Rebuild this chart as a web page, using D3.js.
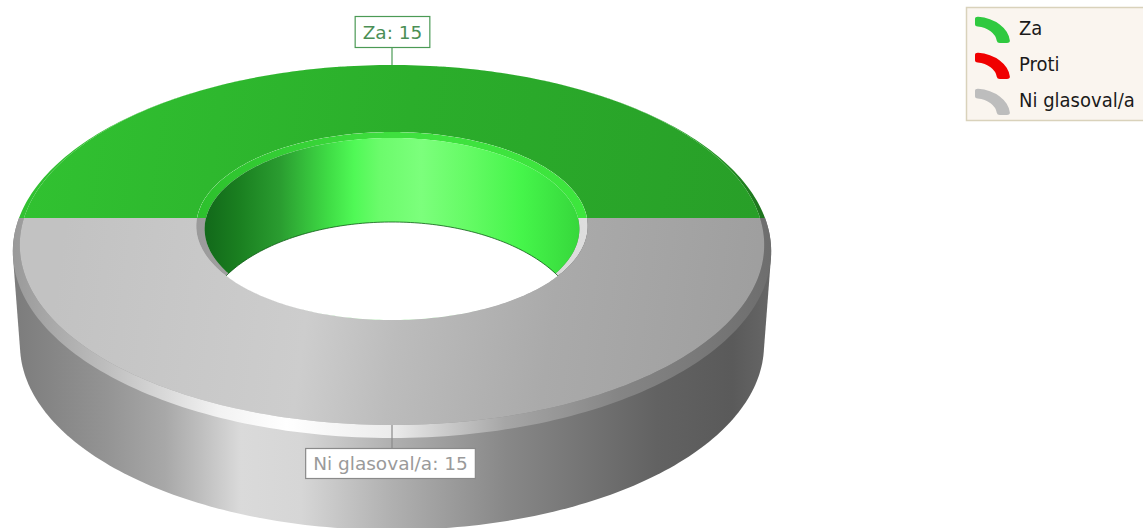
<!DOCTYPE html>
<html>
<head>
<meta charset="utf-8">
<script src="https://cdn.jsdelivr.net/npm/d3@7"></script>
<style>
	html, body { margin: 0; padding: 0; background: #fff; overflow: hidden; }
	svg { display: block; }
	text { font-family: "DejaVu Sans", sans-serif; }
	.legend-label { font-family: "DejaVu Sans Condensed", "DejaVu Sans", sans-serif; font-stretch: condensed; font-size: 20px; fill: #1a1a1a; }
</style>
</head>
<body>
<div id="chart"></div>
<script>
var categories = ['Za', 'Proti', 'Ni glasoval/a'];
var votes = [15, 0, 15];

(function() {
	var width = 1143,
		height = 528,
		cx = 392,
		lineY = 218,
		steps = 160;

	// each ring is a circle seen in perspective: far/near are the distances from the split line
	var rimRing = makeRing(373, 153, 220),
		faceRing = makeRing(368, 153, 207),
		holeRing = makeRing(195, 86, 102),
		wallRing = makeRing(186, 80, 102);

	var baseEllipse = { rx: 372, ry: 185, cy: 345 },
		holeFloor = { rx: 190, ry: 105, cy: 327 };

	// one look per category, same order as categories
	var looks = [
		{
			face: [[0, '#31c231'], [.5, '#2bae2b'], [1, '#289e28']],
			bevel: [[0, '#31c231'], [.5, '#2bae2b'], [.9, '#289e28'], [1, '#1c701c']],
			holeBevel: [[0, '#2cc02c'], [.5, '#3fe03f'], [1, '#3de63d']],
			side: [[0, '#1f8f1f'], [1, '#1f8f1f']],
			stroke: '#4b9a55',
			text: '#4b8f55',
			swatch: '#2fc93f'
		},
		{
			face: [[0, '#f00'], [1, '#c00']],
			bevel: [[0, '#f00'], [1, '#900']],
			holeBevel: [[0, '#f00'], [1, '#f44']],
			side: [[0, '#c00'], [1, '#c00']],
			stroke: '#c00',
			text: '#c00',
			swatch: '#f00000'
		},
		{
			face: [[.07, '#c2c2c2'], [.4, '#cdcdcd'], [.52, '#bcbcbc'], [.72, '#aaaaaa'], [1, '#9e9e9e']],
			bevel: [[0, '#9a9a9a'], [.12, '#bdbdbd'], [.27, '#f2f2f2'], [.36, '#ffffff'], [.5, '#ececec'], [.65, '#a6a6a6'], [.8, '#858585'], [1, '#6e6e6e']],
			holeBevel: [[0, '#9a9a9a'], [.5, '#c0c0c0'], [1, '#dedede']],
			side: [[0, '#7c7c7c'], [.12, '#939393'], [.2, '#a8a8a8'], [.25, '#c0c0c0'], [.3, '#dadada'], [.38, '#d6d6d6'], [.5, '#b0b0b0'], [.65, '#888888'], [.85, '#626262'], [.95, '#5a5a5a'], [1, '#666666']],
			stroke: '#8a8a8a',
			text: '#9a9a9a',
			swatch: '#bdbdbd'
		}
	];

	var pie = d3.pie()
		.sort(null)
		.startAngle(-Math.PI / 2)
		.endAngle(Math.PI * 3 / 2);

	var slices = pie(votes).map(function(d, i) {
		d.index = i;
		return d;
	});

	var svg = d3.select('#chart')
		.append('svg')
		.attr('width', width)
		.attr('height', height)
		.attr('viewBox', '0 0 ' + width + ' ' + height);

	var defs = svg.append('defs');

	looks.forEach(function(look, i) {
		addGradient('face-' + i, look.face, 14, 770, 200, 300);
		addGradient('bevel-' + i, look.bevel, 14, 770);
		addGradient('hole-bevel-' + i, look.holeBevel, 195, 587);
		addGradient('side-' + i, look.side, 14, 770);
	});

	addGradient('wall', [[0, '#12691a'], [.09, '#1a7f20'], [.2, '#2a9c30'], [.33, '#3fdc45'], [.4, '#50f956'], [.47, '#6cfb6c'], [.58, '#7cff7c'], [.7, '#66fb66'], [.85, '#45f54a'], [1, '#37d83c']], 205, 578);

	defs.append('clipPath')
		.attr('id', 'hole-clip')
		.append('path')
		.attr('d', ringPath(holeRing, 0, Math.PI * 2));

	var drawn = slices.filter(function(d) { return d.value > 0; });

	// outer wall, only the slice at the front shows
	svg.append('g')
		.selectAll('path')
		.data(drawn.filter(function(d) { return d.startAngle < Math.PI && d.endAngle > Math.PI; }))
		.enter()
		.append('path')
		.attr('d', sidePath)
		.attr('fill', function(d) { return 'url(#side-' + d.index + ')'; });

	// top of the ring
	svg.append('g')
		.selectAll('path')
		.data(drawn)
		.enter()
		.append('path')
		.attr('d', function(d) { return bandPath(rimRing, faceRing, d.startAngle, d.endAngle); })
		.attr('fill', function(d) { return 'url(#bevel-' + d.index + ')'; });

	svg.append('g')
		.selectAll('path')
		.data(drawn)
		.enter()
		.append('path')
		.attr('d', function(d) { return bandPath(faceRing, holeRing, d.startAngle, d.endAngle); })
		.attr('fill', function(d) { return 'url(#face-' + d.index + ')'; });

	// the hole
	var hole = svg.append('g')
		.attr('clip-path', 'url(#hole-clip)');

	hole.selectAll('.hole-bevel')
		.data(drawn)
		.enter()
		.append('path')
		.attr('class', 'hole-bevel')
		.attr('d', function(d) { return bandPath(holeRing, wallRing, d.startAngle, d.endAngle); })
		.attr('fill', function(d) { return 'url(#hole-bevel-' + d.index + ')'; });

	hole.append('path')
		.attr('d', ringPath(wallRing, 0, Math.PI * 2))
		.attr('fill', 'url(#wall)');

	hole.append('path')
		.attr('d', d3.line()(ellipsePoints(holeFloor, 0, Math.PI * 2)) + 'Z')
		.attr('fill', '#fff')
		.attr('stroke', '#0c5c14')
		.attr('stroke-width', .8);

	drawLabels();
	drawLegend();

	function makeRing(halfWidth, far, near)
	{
		var p = (near - far) / (near + far);
		return { a: halfWidth, b: far * (1 + p), p: p };
	}

	function ringPoint(ring, angle)
	{
		var w = 1 + ring.p * Math.cos(angle);
		return [
			cx + ring.a * Math.sin(angle) / w,
			lineY - ring.b * Math.cos(angle) / w
		];
	}

	function angles(a0, a1)
	{
		var n = Math.max(2, Math.ceil(steps * Math.abs(a1 - a0) / Math.PI));
		return d3.range(n + 1).map(function(i) {
			return a0 + (a1 - a0) * i / n;
		});
	}

	function ringPoints(ring, a0, a1)
	{
		return angles(a0, a1).map(function(a) { return ringPoint(ring, a); });
	}

	function ringPath(ring, a0, a1)
	{
		return d3.line()(ringPoints(ring, a0, a1)) + 'Z';
	}

	function bandPath(outer, inner, a0, a1)
	{
		return d3.line()(ringPoints(outer, a0, a1).concat(ringPoints(inner, a1, a0))) + 'Z';
	}

	function ellipsePoints(e, a0, a1)
	{
		return angles(a0, a1).map(function(a) {
			return [cx + e.rx * Math.sin(a), e.cy - e.ry * Math.cos(a)];
		});
	}

	function sidePath(d)
	{
		var pts = ringPoints(rimRing, d.startAngle, d.endAngle)
			.concat(ellipsePoints(baseEllipse, d.startAngle, d.endAngle));
		return d3.line()(d3.polygonHull(pts)) + 'Z';
	}

	function addGradient(id, stops, x1, x2, y1, y2)
	{
		var g = defs.append('linearGradient')
			.attr('id', id)
			.attr('gradientUnits', 'userSpaceOnUse')
			.attr('x1', x1)
			.attr('x2', x2)
			.attr('y1', y1 || 0)
			.attr('y2', y2 || 0);

		g.selectAll('stop')
			.data(stops)
			.enter()
			.append('stop')
			.attr('offset', function(s) { return s[0]; })
			.attr('stop-color', function(s) { return s[1]; });
	}

	function drawLabels()
	{
		svg.append('g')
			.selectAll('g')
			.data(drawn)
			.enter()
			.append('g')
			.each(function(d) {
				var look = looks[d.index],
					mid = (d.startAngle + d.endAngle) / 2,
					front = Math.cos(mid) < 0,
					anchor = ringPoint(front ? faceRing : rimRing, mid),
					boxH = front ? 30 : 31,
					boxY = front ? 448 : 16,
					boxX = anchor[0] + (front ? -1.5 : .5),
					g = d3.select(this);

				g.append('line')
					.attr('x1', anchor[0])
					.attr('x2', anchor[0])
					.attr('y1', anchor[1])
					.attr('y2', front ? boxY : boxY + boxH)
					.attr('stroke', look.stroke)
					.attr('stroke-width', 1.2);

				var rect = g.append('rect')
					.attr('y', boxY + .5)
					.attr('height', boxH)
					.attr('fill', '#fff')
					.attr('stroke', look.stroke)
					.attr('stroke-width', 1.2);

				var text = g.append('text')
					.attr('x', boxX)
					.attr('y', boxY + boxH / 2 + 7)
					.attr('text-anchor', 'middle')
					.attr('font-size', 18.5)
					.attr('fill', look.text)
					.text(categories[d.index] + ': ' + d.value);

				var w = text.node().getComputedTextLength() + 15;
				rect.attr('x', boxX - w / 2)
					.attr('width', w);
			});
	}

	function drawLegend()
	{
		var legend = svg.append('g');

		legend.append('rect')
			.attr('x', 966.5)
			.attr('y', 7.5)
			.attr('width', 190)
			.attr('height', 113)
			.attr('fill', '#faf5ef')
			.attr('stroke', '#d9d2bb')
			.attr('stroke-width', 1.5);

		var rowY = d3.scalePoint()
			.domain(categories)
			.range([43, 115]);

		var arc = d3.arc()
			.innerRadius(22)
			.outerRadius(35)
			.startAngle(0)
			.endAngle(Math.PI / 2)
			.cornerRadius(3);

		var rows = legend.selectAll('.row')
			.data(categories)
			.enter()
			.append('g')
			.attr('class', 'row')
			.attr('transform', function(d) { return 'translate(975,' + rowY(d) + ')'; });

		rows.append('path')
			.attr('d', arc())
			.attr('transform', 'scale(1,.75)')
			.attr('fill', function(d, i) { return looks[i].swatch; });

		rows.append('text')
			.attr('class', 'legend-label')
			.attr('x', 44)
			.attr('y', -8)
			.text(function(d) { return d; });
	}
})();
</script>
</body>
</html>
